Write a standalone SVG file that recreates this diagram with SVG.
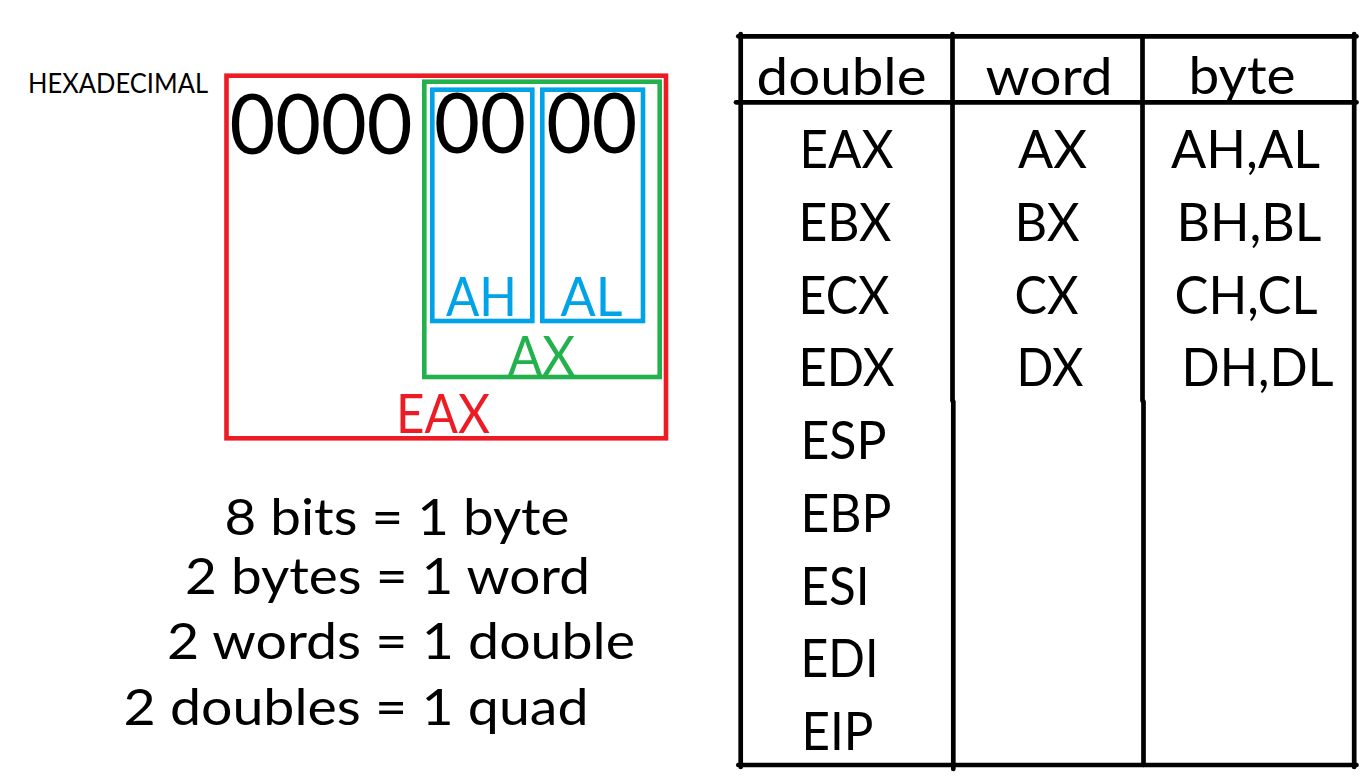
<svg xmlns="http://www.w3.org/2000/svg" width="1367" height="776" viewBox="0 0 1367 776">
  <style>
    text { font-family: Lato, "Open Sans", "Noto Sans", sans-serif; fill: #000; }
    .box { fill: none; stroke-width: 4.6; }
    .red { stroke: #ed1c24; }
    .green { stroke: #22b14c; }
    .blue { stroke: #00a2e8; }
    .t-red { fill: #ed1c24; }
    .t-green { fill: #22b14c; }
    .t-blue { fill: #00a2e8; }
    .hex { font-size: 84px; }
    .reg { font-size: 54px; }
    .cell { font-size: 52px; }
    .note { font-size: 51px; }
    .grid { stroke: #000; stroke-width: 4.7; stroke-linecap: round; fill: none; }
  </style>

  <rect width="1367" height="776" fill="#fff"/>

  <!-- 32-bit register EAX and its sub-registers -->
  <g id="label-hex">
    <text x="28" y="93.3" font-size="27" textLength="180" lengthAdjust="spacingAndGlyphs">HEXADECIMAL</text>
  </g>

  <g id="register-eax">
    <rect class="box red" x="226.5" y="75.7" width="439.5" height="362.6"/>
    <text class="hex" x="229.5" y="154" textLength="183" lengthAdjust="spacingAndGlyphs">0000</text>
    <text class="reg t-red" x="396" y="432.7" font-size="55" textLength="94" lengthAdjust="spacingAndGlyphs">EAX</text>
  </g>

  <g id="register-ax">
    <rect class="box green" x="424.3" y="81.7" width="235.4" height="295.3"/>
    <text class="reg t-green" x="508" y="374.7" font-size="53" textLength="67" lengthAdjust="spacingAndGlyphs">AX</text>
  </g>

  <g id="register-ah">
    <rect class="box blue" x="432.3" y="89.7" width="100" height="231.3"/>
    <text class="hex" x="434" y="153.3" textLength="92" lengthAdjust="spacingAndGlyphs">00</text>
    <text class="reg t-blue" x="446" y="316" textLength="71" lengthAdjust="spacingAndGlyphs">AH</text>
  </g>

  <g id="register-al">
    <rect class="box blue" x="542.3" y="89.7" width="100.7" height="231.3"/>
    <text class="hex" x="546.3" y="153.3" textLength="91" lengthAdjust="spacingAndGlyphs">00</text>
    <text class="reg t-blue" x="560.5" y="316" textLength="62" lengthAdjust="spacingAndGlyphs">AL</text>
  </g>

  <!-- size relations -->
  <g id="size-notes" class="note">
    <text x="224.5" y="535" textLength="345" lengthAdjust="spacingAndGlyphs">8 bits = 1 byte</text>
    <text x="185" y="594" textLength="405" lengthAdjust="spacingAndGlyphs">2 bytes = 1 word</text>
    <text x="167" y="659.3" textLength="468" lengthAdjust="spacingAndGlyphs">2 words = 1 double</text>
    <text x="123.5" y="725" textLength="465" lengthAdjust="spacingAndGlyphs">2 doubles = 1 quad</text>
  </g>

  <!-- register table -->
  <g id="register-table">
    <g id="table-grid">
      <line class="grid" x1="738.3" y1="36.3" x2="1356.5" y2="36.3"/>
      <line class="grid" x1="740.7" y1="34" x2="740.7" y2="767"/>
      <line class="grid" x1="1354.2" y1="34" x2="1354.2" y2="767"/>
      <line class="grid" x1="738.3" y1="765" x2="1356.5" y2="765"/>
      <line class="grid" x1="736" y1="102.3" x2="1356.5" y2="102.3"/>
      <line class="grid" x1="952.5" y1="34" x2="952.5" y2="400.7"/>
      <line class="grid" x1="953.3" y1="401.5" x2="953.3" y2="769"/>
      <line class="grid" x1="1142.5" y1="36.3" x2="1142.5" y2="400.7"/>
      <line class="grid" x1="1143.5" y1="401.5" x2="1143.5" y2="765"/>
    </g>

    <g id="table-header" class="cell">
      <text x="756.5" y="95" textLength="170" lengthAdjust="spacingAndGlyphs">double</text>
      <text x="985.5" y="95" textLength="127" lengthAdjust="spacingAndGlyphs">word</text>
      <text x="1188.5" y="94" textLength="107" lengthAdjust="spacingAndGlyphs">byte</text>
    </g>

    <g id="col-double" class="cell">
      <text x="799.5" y="168.3" textLength="94" lengthAdjust="spacingAndGlyphs">EAX</text>
      <text x="798.5" y="241" textLength="93" lengthAdjust="spacingAndGlyphs">EBX</text>
      <text x="798.5" y="313.7" textLength="91" lengthAdjust="spacingAndGlyphs">ECX</text>
      <text x="798.5" y="386.4" textLength="96" lengthAdjust="spacingAndGlyphs">EDX</text>
      <text x="800.5" y="459" textLength="86" lengthAdjust="spacingAndGlyphs">ESP</text>
      <text x="800.5" y="531.8" textLength="91" lengthAdjust="spacingAndGlyphs">EBP</text>
      <text x="800.5" y="604.5" textLength="69" lengthAdjust="spacingAndGlyphs">ESI</text>
      <text x="800.5" y="677.2" textLength="78" lengthAdjust="spacingAndGlyphs">EDI</text>
      <text x="801.5" y="750" textLength="72" lengthAdjust="spacingAndGlyphs">EIP</text>
    </g>

    <g id="col-word" class="cell">
      <text x="1018" y="168.3" textLength="69" lengthAdjust="spacingAndGlyphs">AX</text>
      <text x="1014.5" y="241" textLength="65" lengthAdjust="spacingAndGlyphs">BX</text>
      <text x="1014.5" y="313.7" textLength="64" lengthAdjust="spacingAndGlyphs">CX</text>
      <text x="1016.5" y="386.4" textLength="67" lengthAdjust="spacingAndGlyphs">DX</text>
    </g>

    <g id="col-byte" class="cell">
      <text x="1171" y="168.3" textLength="149" lengthAdjust="spacingAndGlyphs">AH,AL</text>
      <text x="1176.5" y="241" textLength="145" lengthAdjust="spacingAndGlyphs">BH,BL</text>
      <text x="1174.5" y="313.7" textLength="143" lengthAdjust="spacingAndGlyphs">CH,CL</text>
      <text x="1181.5" y="386.4" textLength="152" lengthAdjust="spacingAndGlyphs">DH,DL</text>
    </g>
  </g>
</svg>
